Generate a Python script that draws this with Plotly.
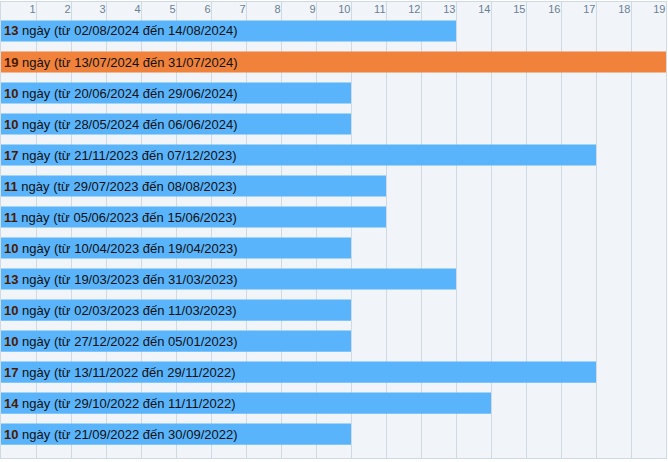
import plotly.graph_objects as go

days = [13, 19, 10, 10, 17, 11, 11, 10, 13, 10, 10, 17, 14, 10]
starts = ["02/08/2024", "13/07/2024", "20/06/2024", "28/05/2024", "21/11/2023",
          "29/07/2023", "05/06/2023", "10/04/2023", "19/03/2023", "02/03/2023",
          "27/12/2022", "13/11/2022", "29/10/2022", "21/09/2022"]
ends = ["14/08/2024", "31/07/2024", "29/06/2024", "06/06/2024", "07/12/2023",
        "08/08/2023", "15/06/2023", "19/04/2023", "31/03/2023", "11/03/2023",
        "05/01/2023", "29/11/2022", "11/11/2022", "30/09/2022"]
tick_vals = list(range(1, 20))

BLUE = "#5ab4fb"
ORANGE = "#f0823b"
max_d = max(days)
colors = [ORANGE if d == max_d else BLUE for d in days]
labels = [f"<b><span style='color:#4a1a00'>{d}</span></b> ngày (từ {s} đến {e})"
          for d, s, e in zip(days, starts, ends)]
ypos = list(range(len(days)))

fig = go.Figure(go.Bar(
    x=days, y=ypos, orientation="h", base=0,
    marker=dict(color=colors, line=dict(width=0)),
    width=0.68,
    text=labels, textposition="inside", insidetextanchor="start",
    textfont=dict(family="Liberation Sans, Arial, sans-serif", size=13, color="#111111"),
    constraintext="none", cliponaxis=False, hoverinfo="skip",
))

GRID = "#d0dae3"
fig.update_layout(
    width=668, height=462,
    margin=dict(l=1, r=2, t=2, b=4),
    paper_bgcolor="white", plot_bgcolor="#f1f5f9",
    showlegend=False, bargap=0.32,
    uniformtext=dict(mode=False),
    xaxis=dict(side="top", range=[0, 19], tickvals=tick_vals,
               ticktext=[str(v) for v in tick_vals],
               ticklabelposition="inside left", ticks="",
               tickfont=dict(family="Liberation Sans, Arial, sans-serif", size=11, color="#6b7f94"),
               showgrid=True, gridcolor=GRID, gridwidth=1, zeroline=False,
               showline=True, linecolor=GRID, linewidth=1, mirror=True, fixedrange=True),
    yaxis=dict(range=[13.77, -0.935], showticklabels=False, showgrid=False,
               zeroline=False, ticks="", showline=True, linecolor=GRID,
               linewidth=1, mirror=True, fixedrange=True),
)

fig.write_html("out.html")
